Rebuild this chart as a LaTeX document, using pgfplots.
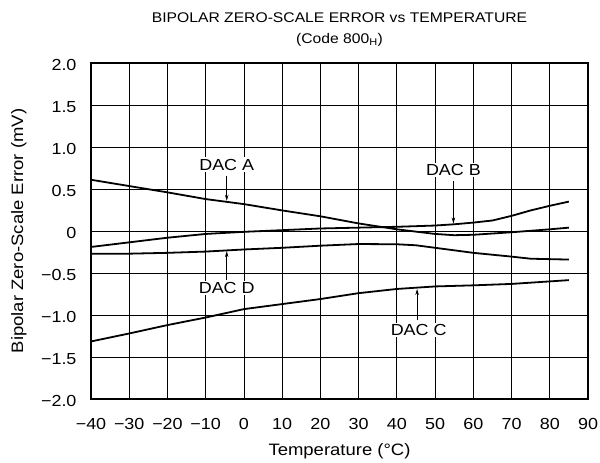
\documentclass[border=0pt]{standalone}
\usepackage{fontspec}
\setmainfont{Liberation Sans}[FakeStretch=1.12]
\usepackage{pgfplots}
\pgfplotsset{compat=1.18}
\usetikzlibrary{arrows.meta}
\begin{document}
\begin{tikzpicture}
\begin{axis}[
 at={(0pt,0pt)}, anchor=south west,
 scale only axis, width=497pt, height=336pt,
 xmin=-40, xmax=90, ymin=-2, ymax=2,
 xtick={-40,-30,-20,-10,0,10,20,30,40,50,60,70,80,90},
 xticklabels={−40,−30,−20,−10,0,10,20,30,40,50,60,70,80,90},
 ytick={-2,-1.5,-1,-0.5,0,0.5,1,1.5,2},
 yticklabels={−2.0,−1.5,−1.0,−0.5,0,0.5,1.0,1.5,2.0},
 xmajorgrids=true, ymajorgrids=true,
 major grid style={black, line width=0.7pt},
 tick style={black, line width=0.7pt},
 tick align=inside,
 axis line style={line width=2pt},
 tick label style={font=\fontsize{16}{18}\selectfont},
 xticklabel style={yshift=-16pt},
 yticklabel style={xshift=-11pt, yshift=-2pt},
 xlabel={Temperature (°C)},
 ylabel={Bipolar Zero-Scale Error (mV)},
 label style={font=\fontsize{16.5}{18}\selectfont},
 xlabel style={at={(axis description cs:0.5,-0.155)}, anchor=center},
 ylabel style={at={(axis description cs:-0.145,0.5)}, anchor=center},
 clip=false,
]
% DAC A
\addplot[black, line width=1.8pt, no markers] coordinates {(-40,0.61) (-30,0.535) (-20,0.46) (-10,0.38) (0,0.32) (10,0.245) (20,0.175) (30,0.09) (40,0.02) (50,-0.035) (55,-0.05) (60,-0.045) (70,-0.015) (80,0.02) (85,0.04)};
% DAC B
\addplot[black, line width=1.8pt, no markers] coordinates {(-40,-0.19) (-30,-0.135) (-20,-0.08) (-10,-0.035) (0,-0.01) (10,0.01) (20,0.03) (30,0.04) (40,0.05) (50,0.065) (55,0.08) (60,0.1) (65,0.125) (70,0.18) (75,0.245) (80,0.3) (85,0.35)};
% DAC D
\addplot[black, line width=1.8pt, no markers] coordinates {(-40,-0.27) (-30,-0.27) (-20,-0.26) (-10,-0.245) (0,-0.22) (10,-0.2) (20,-0.175) (30,-0.155) (40,-0.158) (45,-0.17) (50,-0.2) (60,-0.26) (70,-0.305) (75,-0.33) (85,-0.34)};
% DAC C
\addplot[black, line width=1.8pt, no markers] coordinates {(-40,-1.315) (-30,-1.22) (-20,-1.12) (-10,-1.03) (0,-0.93) (10,-0.87) (20,-0.81) (30,-0.74) (40,-0.69) (45,-0.675) (50,-0.66) (60,-0.647) (70,-0.63) (80,-0.6) (85,-0.585)};

\tikzset{lab/.style={fill=white, inner sep=1.5pt, font=\fontsize{16}{18}\selectfont},
         arr/.style={-{Stealth[length=6pt,width=3.5pt]}, line width=0.7pt}}
\node[lab] at (axis cs:-4.5,0.79) {DAC A};
\draw[arr] (axis cs:-4.5,0.66) -- (axis cs:-4.5,0.36);
\node[lab] at (axis cs:54.8,0.73) {DAC B};
\draw[arr] (axis cs:54.8,0.59) -- (axis cs:54.8,0.09);
\node[lab] at (axis cs:-4.5,-0.68) {DAC D};
\draw[arr] (axis cs:-4.5,-0.58) -- (axis cs:-4.5,-0.24);
\node[lab] at (axis cs:45.7,-1.18) {DAC C};
\draw[arr] (axis cs:45.3,-1.06) -- (axis cs:45.3,-0.69);

\node[font=\fontsize{14}{16}\selectfont] at (axis description cs:0.5,1) [yshift=45pt] {BIPOLAR ZERO-SCALE ERROR vs TEMPERATURE};
\node[font=\fontsize{14}{16}\selectfont] at (axis description cs:0.5,1) [yshift=23pt, xshift=0pt] {(Code 800\textsubscript{H})};
\end{axis}
\pgfresetboundingbox
\path[use as bounding box] (-91pt,-64pt) rectangle (509pt,399pt);
\end{tikzpicture}
\end{document}
